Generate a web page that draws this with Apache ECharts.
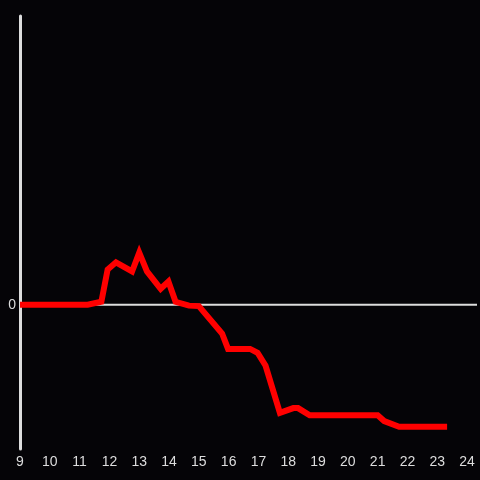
<!DOCTYPE html>
<html>
<head>
<meta charset="utf-8">
<script src="https://cdn.jsdelivr.net/npm/echarts@6/dist/echarts.min.js"></script>
<style>
html,body{margin:0;padding:0;background:#050407;overflow:hidden;}
#c{width:480px;height:480px;}
</style>
</head>
<body>
<div id="c"></div>
<script>
// x: hour of day, y: value relative to zero line
const hours = [9.0, 11.27, 11.73, 11.94, 12.22, 12.76, 13.0, 13.26, 13.72, 13.98, 14.22, 14.67, 15.0, 15.78, 15.98, 16.72, 16.97, 17.24, 17.72, 18.17, 18.33, 18.72, 21.0, 21.22, 21.72, 23.33];
const values = [0, 0, 0.06, 0.73, 0.88, 0.69, 1.08, 0.69, 0.33, 0.48, 0.06, -0.02, -0.03, -0.6, -0.92, -0.92, -1.0, -1.27, -2.25, -2.15, -2.15, -2.3, -2.3, -2.42, -2.54, -2.54];
const xTicks = [9, 10, 11, 12, 13, 14, 15, 16, 17, 18, 19, 20, 21, 22, 23, 24];
const xMax = 24.333;
const zeroLine = [[9, 0], [xMax, 0]];

const chart = echarts.init(document.getElementById('c'), null, {width: 480, height: 480});
chart.setOption({
  backgroundColor: '#050407',
  animation: false,
  grid: {left: 20, right: 0, top: 16, bottom: 31, containLabel: false},
  xAxis: {
    type: 'value', min: 9, max: xMax, interval: 1,
    axisLine: {show: false}, axisTick: {show: false}, splitLine: {show: false},
    axisLabel: {color: '#dddddd', fontSize: 14, margin: 6,
      formatter: v => xTicks.includes(v) ? String(v) : ''}
  },
  yAxis: {
    type: 'value', min: -3, max: 6, interval: 3,
    axisLine: {show: true, onZero: false, lineStyle: {color: '#dddddd', width: 3}},
    axisTick: {show: false}, splitLine: {show: false},
    axisLabel: {color: '#dddddd', fontSize: 14, margin: 4, formatter: v => v === 0 ? '0' : ''}
  },
  series: [
    {type: 'line', data: zeroLine, symbol: 'none', z: 1, silent: true,
     lineStyle: {color: '#dddddd', width: 2}},
    {type: 'line', data: hours.map((h, i) => [h, values[i]]), symbol: 'none', z: 2,
     lineStyle: {color: '#ff0000', width: 6, join: 'miter'}}
  ]
});
</script>
</body>
</html>
